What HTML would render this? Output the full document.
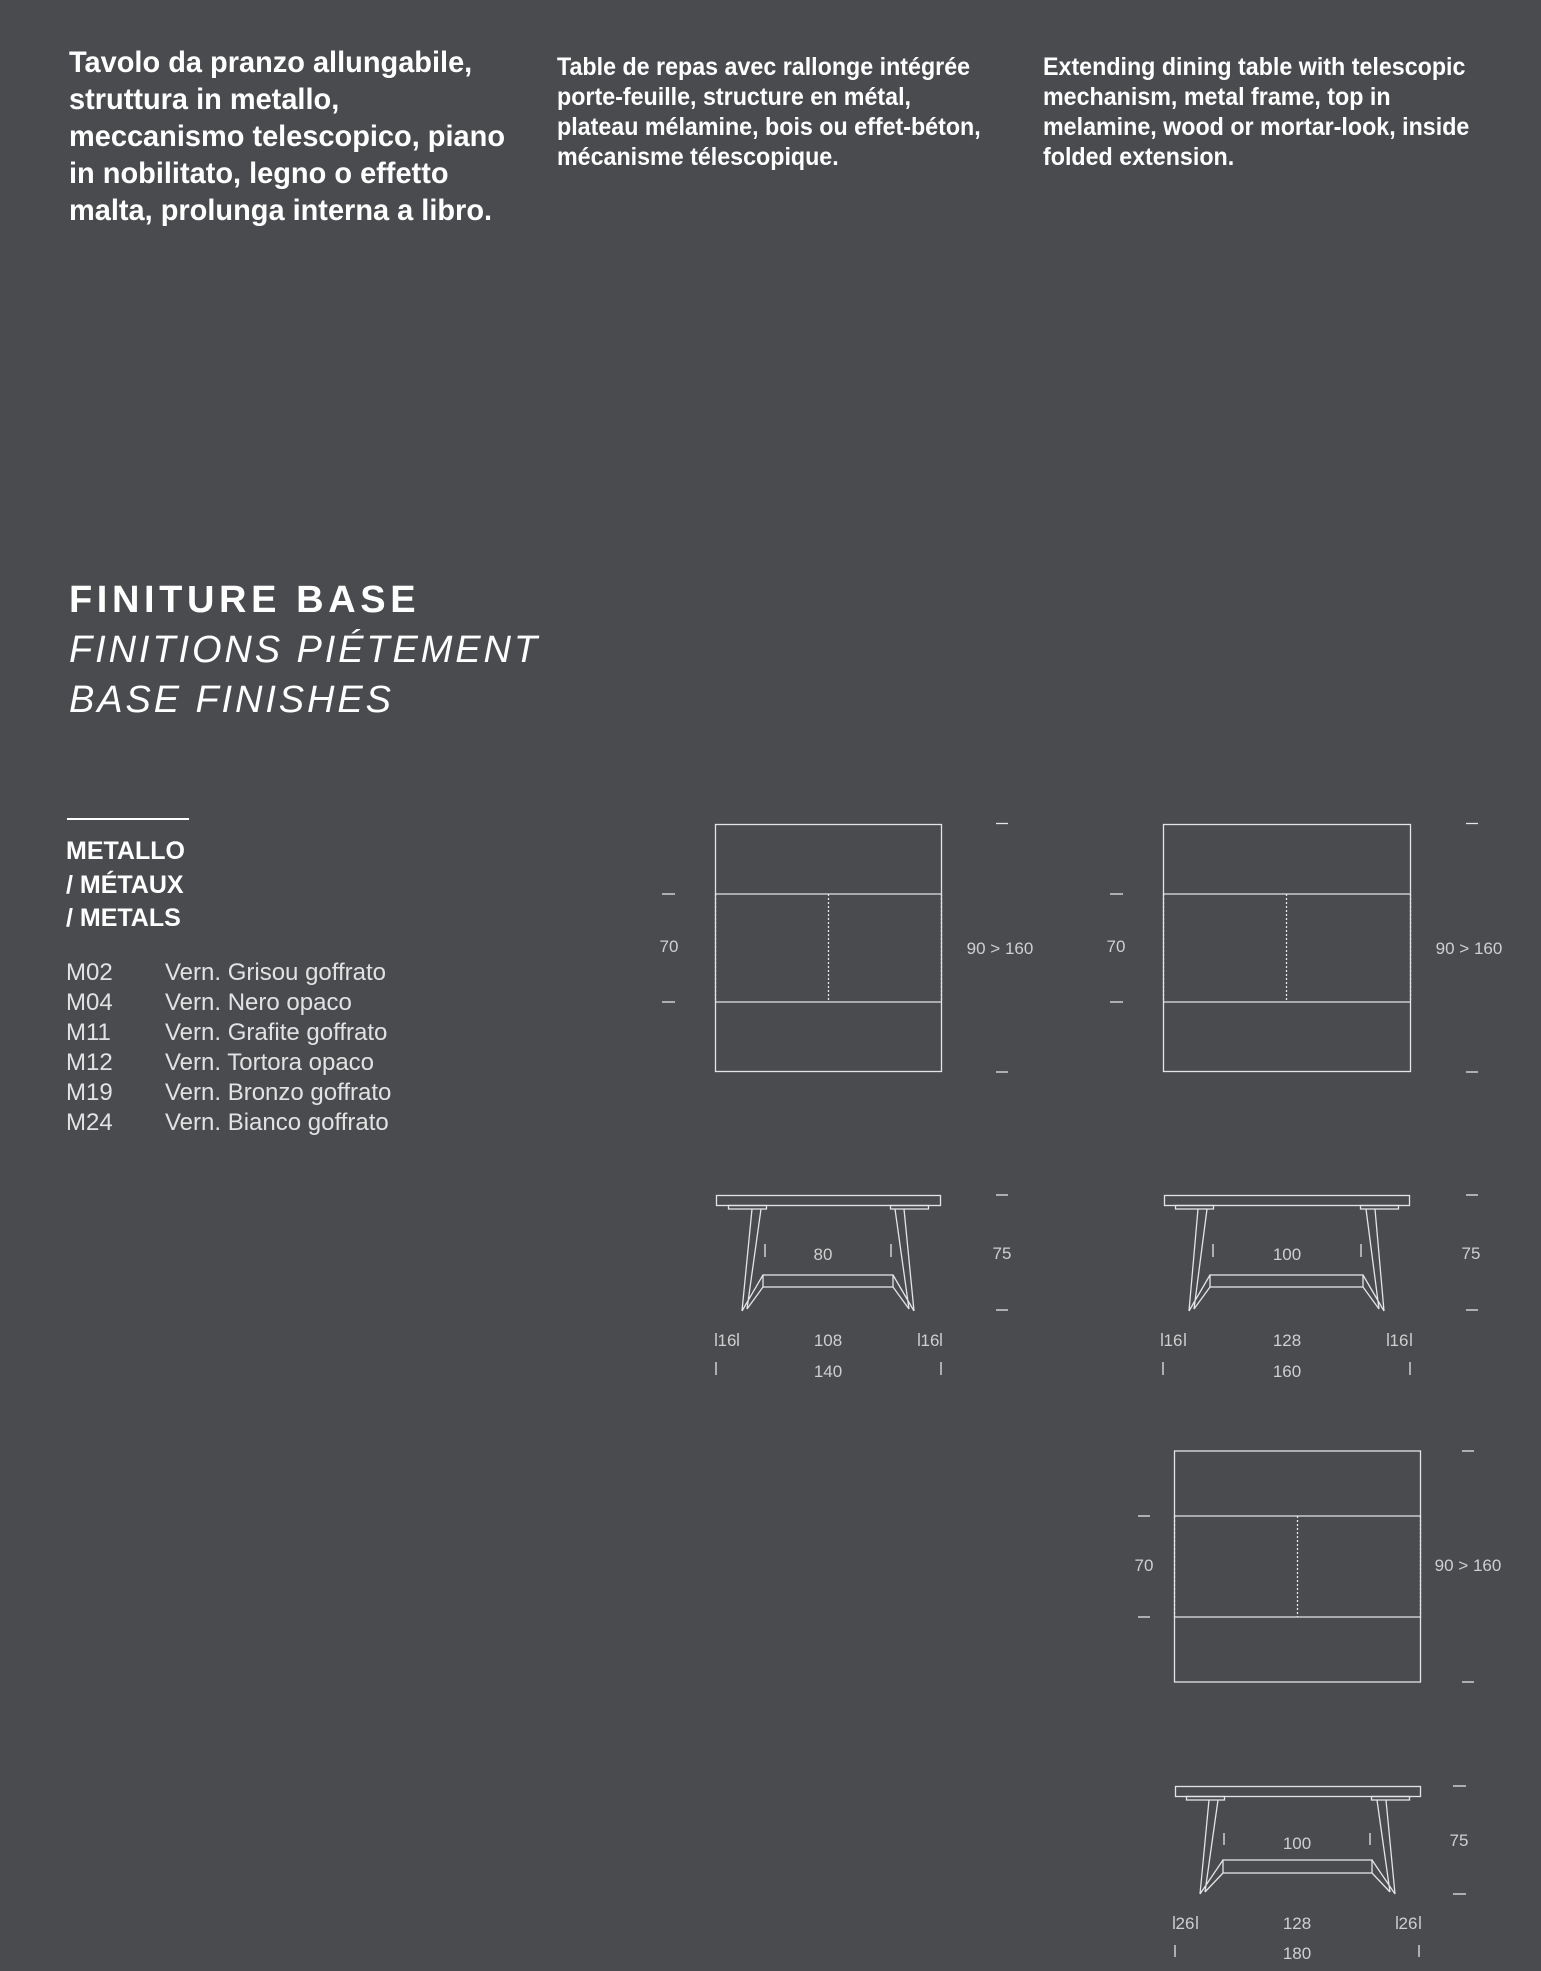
<!DOCTYPE html>
<html><head><meta charset="utf-8">
<style>
html,body{margin:0;padding:0;}
body{width:1541px;height:1971px;background:#4a4b4f;position:relative;overflow:hidden;font-family:"Liberation Sans",sans-serif;color:#fff;}
.t{position:absolute;white-space:nowrap;}
.it{left:69px;top:44px;font-weight:bold;font-size:30px;line-height:37px;transform:scaleX(0.965);transform-origin:0 0;}
.fr{top:52px;font-weight:bold;font-size:25px;line-height:30px;transform:scaleX(0.93);transform-origin:0 0;}
.h{left:69px;font-size:38px;letter-spacing:3px;line-height:50px;}
.m{left:66px;font-weight:bold;font-size:25px;line-height:33.5px;top:835px;}
.ls{font-size:24px;line-height:30px;top:958px;color:#e2e2e2;}
svg{position:absolute;left:0;top:0;}
</style></head><body>
<div class="t it">Tavolo da pranzo allungabile,<br>struttura in metallo,<br>meccanismo telescopico, piano<br>in nobilitato, legno o effetto<br>malta, prolunga interna a libro.</div>
<div class="t fr" style="left:557px">Table de repas avec rallonge intégrée<br>porte-feuille, structure en métal,<br>plateau mélamine, bois ou effet-béton,<br>mécanisme télescopique.</div>
<div class="t fr" style="left:1043px">Extending dining table with telescopic<br>mechanism, metal frame, top in<br>melamine, wood or mortar-look, inside<br>folded extension.</div>
<div class="t h" style="top:575px;font-weight:bold;letter-spacing:4.6px;">FINITURE BASE</div>
<div class="t h" style="top:625px;font-style:italic;letter-spacing:2.9px;">FINITIONS PIÉTEMENT</div>
<div class="t h" style="top:675px;font-style:italic;letter-spacing:2.9px;">BASE FINISHES</div>
<div style="position:absolute;left:67px;top:818px;width:122px;height:2px;background:#fff"></div>
<div class="t m">METALLO<br>/ MÉTAUX<br>/ METALS</div>
<div class="t ls" style="left:66px">M02<br>M04<br>M11<br>M12<br>M19<br>M24</div>
<div class="t ls" style="left:165px">Vern. Grisou goffrato<br>Vern. Nero opaco<br>Vern. Grafite goffrato<br>Vern. Tortora opaco<br>Vern. Bronzo goffrato<br>Vern. Bianco goffrato</div>

<svg width="1541" height="1971" viewBox="0 0 1541 1971">
<g fill="none" stroke="#e4e4e4" stroke-width="1.3">
<rect x="715.5" y="824.5" width="226" height="247"/>
<line x1="715.5" y1="894" x2="941.5" y2="894"/>
<line x1="715.5" y1="1002" x2="941.5" y2="1002"/>
<line x1="828.5" y1="894" x2="828.5" y2="1002" stroke-dasharray="2,2"/>
<line x1="715.5" y1="894" x2="715.5" y2="1002" stroke-dasharray="2,2"/>
<line x1="941.5" y1="894" x2="941.5" y2="1002" stroke-dasharray="2,2"/>
<line x1="662" y1="894" x2="675" y2="894"/><line x1="662" y1="1002" x2="675" y2="1002"/>
<line x1="996" y1="823.5" x2="1008" y2="823.5"/><line x1="996" y1="1072" x2="1008" y2="1072"/>
<rect x="716.5" y="1195.5" width="224" height="10"/>
<rect x="728.5" y="1205.5" width="38" height="3.5"/><rect x="890.5" y="1205.5" width="38" height="3.5"/>
<path d="M752 1209 L742 1311 M761 1209 L747 1309 M742 1311 L763 1275 M747 1309 L763 1287"/>
<path d="M904 1209 L914 1311 M895 1209 L909 1309 M914 1311 L893 1275 M909 1309 L893 1287"/>
<rect x="763" y="1275" width="130" height="12"/>
<line x1="765" y1="1244" x2="765" y2="1257"/><line x1="891" y1="1244" x2="891" y2="1257"/>
<line x1="996" y1="1195" x2="1008" y2="1195"/><line x1="996" y1="1310" x2="1008" y2="1310"/>
<line x1="716" y1="1333" x2="716" y2="1346"/><line x1="738" y1="1333" x2="738" y2="1346"/>
<line x1="919" y1="1333" x2="919" y2="1346"/><line x1="941" y1="1333" x2="941" y2="1346"/>
<line x1="716" y1="1362" x2="716" y2="1375"/><line x1="941" y1="1362" x2="941" y2="1375"/>

<rect x="1163.5" y="824.5" width="247" height="247"/>
<line x1="1163.5" y1="894" x2="1410.5" y2="894"/>
<line x1="1163.5" y1="1002" x2="1410.5" y2="1002"/>
<line x1="1286.5" y1="894" x2="1286.5" y2="1002" stroke-dasharray="2,2"/>
<line x1="1163.5" y1="894" x2="1163.5" y2="1002" stroke-dasharray="2,2"/>
<line x1="1410.5" y1="894" x2="1410.5" y2="1002" stroke-dasharray="2,2"/>
<line x1="1110" y1="894" x2="1123" y2="894"/><line x1="1110" y1="1002" x2="1123" y2="1002"/>
<line x1="1466" y1="823.5" x2="1478" y2="823.5"/><line x1="1466" y1="1072" x2="1478" y2="1072"/>
<rect x="1164.5" y="1195.5" width="245" height="10"/>
<rect x="1175.5" y="1205.5" width="38" height="3.5"/><rect x="1360.5" y="1205.5" width="38" height="3.5"/>
<path d="M1198 1209 L1189 1311 M1207 1209 L1194 1309 M1189 1311 L1210 1275 M1194 1309 L1210 1287"/>
<path d="M1375 1209 L1384 1311 M1366 1209 L1379 1309 M1384 1311 L1363 1275 M1379 1309 L1363 1287"/>
<rect x="1210" y="1275" width="153" height="12"/>
<line x1="1213" y1="1244" x2="1213" y2="1257"/><line x1="1361" y1="1244" x2="1361" y2="1257"/>
<line x1="1466" y1="1195" x2="1478" y2="1195"/><line x1="1466" y1="1310" x2="1478" y2="1310"/>
<line x1="1162" y1="1333" x2="1162" y2="1346"/><line x1="1185" y1="1333" x2="1185" y2="1346"/>
<line x1="1388" y1="1333" x2="1388" y2="1346"/><line x1="1411" y1="1333" x2="1411" y2="1346"/>
<line x1="1163" y1="1362" x2="1163" y2="1375"/><line x1="1410" y1="1362" x2="1410" y2="1375"/>

<rect x="1174.5" y="1451" width="246" height="231"/>
<line x1="1174.5" y1="1516" x2="1420.5" y2="1516"/>
<line x1="1174.5" y1="1617" x2="1420.5" y2="1617"/>
<line x1="1297.5" y1="1516" x2="1297.5" y2="1617" stroke-dasharray="2,2"/>
<line x1="1174.5" y1="1516" x2="1174.5" y2="1617" stroke-dasharray="2,2"/>
<line x1="1420.5" y1="1516" x2="1420.5" y2="1617" stroke-dasharray="2,2"/>
<line x1="1138" y1="1516" x2="1150" y2="1516"/><line x1="1138" y1="1617" x2="1150" y2="1617"/>
<line x1="1462" y1="1451" x2="1474" y2="1451"/><line x1="1462" y1="1682" x2="1474" y2="1682"/>
<rect x="1175.5" y="1786.5" width="245" height="10"/>
<rect x="1186.5" y="1796.5" width="38" height="3.5"/><rect x="1371.5" y="1796.5" width="38" height="3.5"/>
<path d="M1209 1800 L1200 1894 M1218 1800 L1205 1892 M1200 1894 L1223 1860 M1205 1892 L1223 1873"/>
<path d="M1386 1800 L1395 1894 M1377 1800 L1390 1892 M1395 1894 L1372 1860 M1390 1892 L1372 1873"/>
<rect x="1223" y="1860" width="149" height="13"/>
<line x1="1224" y1="1833" x2="1224" y2="1845"/><line x1="1370" y1="1833" x2="1370" y2="1845"/>
<line x1="1453" y1="1786" x2="1466" y2="1786"/><line x1="1453" y1="1894" x2="1466" y2="1894"/>
<line x1="1174" y1="1916" x2="1174" y2="1929"/><line x1="1197" y1="1916" x2="1197" y2="1929"/>
<line x1="1397" y1="1916" x2="1397" y2="1929"/><line x1="1420" y1="1916" x2="1420" y2="1929"/>
<line x1="1175" y1="1945" x2="1175" y2="1957"/><line x1="1419" y1="1945" x2="1419" y2="1957"/>
</g>
<g fill="#cfcfcf" font-family="Liberation Sans, sans-serif" font-size="17" text-anchor="middle">
<text x="669" y="952">70</text><text x="1000" y="954">90 &gt; 160</text>
<text x="823" y="1260">80</text><text x="1002" y="1259">75</text>
<text x="727" y="1346">16</text><text x="828" y="1346">108</text><text x="930" y="1346">16</text>
<text x="828" y="1377">140</text>
<text x="1116" y="952">70</text><text x="1469" y="954">90 &gt; 160</text>
<text x="1287" y="1260">100</text><text x="1471" y="1259">75</text>
<text x="1173" y="1346">16</text><text x="1287" y="1346">128</text><text x="1399" y="1346">16</text>
<text x="1287" y="1377">160</text>
<text x="1144" y="1571">70</text><text x="1468" y="1571">90 &gt; 160</text>
<text x="1297" y="1849">100</text><text x="1459" y="1846">75</text>
<text x="1185" y="1929">26</text><text x="1297" y="1929">128</text><text x="1408" y="1929">26</text>
<text x="1297" y="1959">180</text>
</g>
</svg>
</body></html>
